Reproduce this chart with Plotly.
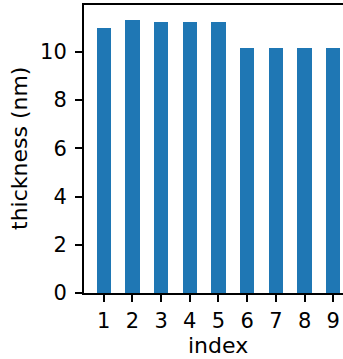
import plotly.graph_objects as go

# thickness per sample index
index = [1, 2, 3, 4, 5, 6, 7, 8, 9]
thickness = [11.0, 11.32, 11.23, 11.23, 11.23, 10.17, 10.14, 10.17, 10.17]
y_ticks = [0, 2, 4, 6, 8, 10]

FONT = "DejaVu Sans"
TICK_SIZE = 21
LABEL_SIZE = 22

fig = go.Figure(
    go.Bar(
        x=index,
        y=thickness,
        width=0.5,
        marker=dict(color="#1f77b4", line=dict(width=0)),
    )
)

fig.update_layout(
    width=343,
    height=359,
    margin=dict(l=84, r=0, t=5, b=66),
    paper_bgcolor="white",
    plot_bgcolor="white",
    showlegend=False,
    font=dict(family=FONT, color="black", size=TICK_SIZE),
    bargap=0,
)

fig.update_xaxes(
    range=[0.314, 9.338],
    tickmode="array",
    tickvals=index,
    ticktext=[str(i) for i in index],
    ticks="outside",
    ticklen=7,
    tickwidth=1.5,
    tickcolor="black",
    showline=True,
    linecolor="black",
    linewidth=2,
    mirror=True,
    showgrid=False,
    zeroline=False,
    tickfont=dict(family=FONT, size=TICK_SIZE, color="black"),
    ticklabelstandoff=1,
)

fig.update_yaxes(
    range=[0, 11.94],
    tickmode="array",
    tickvals=y_ticks,
    ticks="outside",
    ticklen=7,
    tickwidth=1.5,
    tickcolor="black",
    showline=True,
    linecolor="black",
    linewidth=2,
    mirror=False,
    showgrid=False,
    zeroline=False,
    tickfont=dict(family=FONT, size=TICK_SIZE, color="black"),
    ticklabelstandoff=4,
)

# axis titles
fig.add_annotation(
    text="index",
    xref="x", yref="paper",
    x=5, y=0,
    xanchor="center", yanchor="bottom",
    yshift=-66,
    borderpad=0,
    showarrow=False,
    font=dict(family=FONT, size=LABEL_SIZE, color="black"),
)
fig.add_annotation(
    text="thickness (nm)",
    xref="paper", yref="paper",
    x=0, y=0.5,
    xanchor="center", yanchor="middle",
    xshift=-65,
    textangle=-90,
    showarrow=False,
    font=dict(family=FONT, size=LABEL_SIZE, color="black"),
)

fig.write_html("out.html")
